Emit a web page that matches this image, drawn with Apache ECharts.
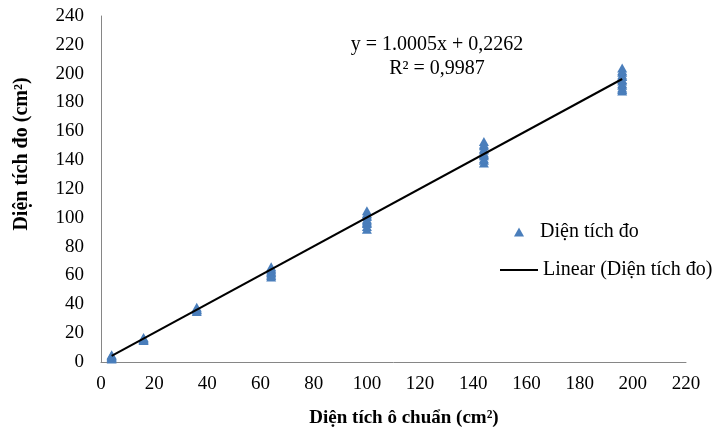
<!DOCTYPE html>
<html>
<head>
<meta charset="utf-8">
<style type="text/css">
* { margin: 0; padding: 0; }
body { background: #fff; }
#chart { width: 722px; height: 434px; }
</style>
</head>
<body>
<div id="chart"></div>
<script type="text/javascript" src="https://cdn.jsdelivr.net/npm/echarts@6/dist/echarts.min.js"></script>
<script type="text/javascript">
// ô chuẩn (cm2) và các lần đo tương ứng
var xStd = [4, 16, 36, 64, 100, 144, 196];
var yMeas = [
    [2, 3, 3.5, 4, 4.5, 5],
    [15, 15.5, 16, 16.5, 17],
    [35, 36, 36.5, 37, 38],
    [59, 60, 61, 62, 63, 64, 65, 66],
    [92, 94, 96, 97, 98, 99, 101, 102, 103, 105],
    [138, 140, 141, 143, 144, 145, 147, 148, 150, 151, 153],
    [188, 189, 190, 192, 193, 195, 196, 198, 199, 201, 202, 204]
];
// đường xu hướng
var trendX = [4, 196];
var trendY = [4.2, 196.3];

var xTicks = [0, 220, 20];
var yTicks = [0, 240, 20];

var pts = [];
for (var i = 0; i < xStd.length; i++) {
    for (var j = 0; j < yMeas[i].length; j++) {
        pts.push([xStd[i], yMeas[i][j]]);
    }
}
var trend = [];
for (var k = 0; k < trendX.length; k++) {
    trend.push([trendX[k], trendY[k]]);
}

var font = '"Liberation Serif", "DejaVu Serif", serif';
var myChart = echarts.init(document.getElementById('chart'));

var option = {
    animation: false,
    backgroundColor: '#fff',
    grid: { left: 101, right: 36, top: 16, bottom: 72, containLabel: false },
    xAxis: {
        type: 'value',
        min: xTicks[0], max: xTicks[1], interval: xTicks[2],
        axisLine: { show: true, lineStyle: { color: '#868686', width: 1 } },
        axisTick: { show: false },
        splitLine: { show: false },
        axisLabel: { color: '#000', fontFamily: font, fontSize: 19, margin: 13 }
    },
    yAxis: {
        type: 'value',
        min: yTicks[0], max: yTicks[1], interval: yTicks[2],
        axisLine: { show: true, lineStyle: { color: '#868686', width: 1 } },
        axisTick: { show: false },
        splitLine: { show: false },
        axisLabel: { color: '#000', fontFamily: font, fontSize: 19, margin: 17 }
    },
    legend: [{
        data: ['Diện tích đo'],
        orient: 'vertical',
        left: 514, top: 222,
        padding: 0,
        itemWidth: 10, itemHeight: 9,
        textStyle: { color: '#000', fontFamily: font, fontSize: 20, padding: [0, 0, 0, 11] }
    }, {
        data: [{ name: 'Linear (Diện tích đo)', icon: 'rect' }],
        orient: 'vertical',
        left: 500, top: 260,
        padding: 0,
        itemWidth: 38, itemHeight: 2,
        itemStyle: { color: '#000' },
        textStyle: { color: '#000', fontFamily: font, fontSize: 20, padding: [0, 0, 0, 0] }
    }],
    graphic: [{
        type: 'text',
        style: {
            text: 'y = 1.0005x + 0,2262\nR² = 0,9987',
            x: 437, y: 33,
            textAlign: 'center',
            fontFamily: font, fontSize: 20, lineHeight: 24,
            fill: '#000'
        }
    }, {
        type: 'text',
        style: {
            text: 'Diện tích ô chuẩn (cm²)',
            x: 404, y: 418,
            textAlign: 'center', textVerticalAlign: 'middle',
            fontFamily: font, fontSize: 19, fontWeight: 'bold',
            fill: '#000'
        }
    }, {
        type: 'text',
        x: 22, y: 154,
        rotation: Math.PI / 2,
        style: {
            text: 'Diện tích đo (cm²)',
            x: 0, y: 0,
            textAlign: 'center', textVerticalAlign: 'middle',
            fontFamily: font, fontSize: 20, fontWeight: 'bold',
            fill: '#000'
        }
    }],
    series: [{
        name: 'Diện tích đo',
        type: 'scatter',
        symbol: 'triangle',
        symbolSize: [10, 9],
        itemStyle: { color: '#4A7EBB', opacity: 1 },
        data: pts,
        z: 2
    }, {
        name: 'Linear (Diện tích đo)',
        type: 'line',
        symbol: 'none',
        showSymbol: false,
        lineStyle: { color: '#000', width: 2 },
        itemStyle: { color: '#000' },
        data: trend,
        z: 3
    }]
};
myChart.setOption(option);
</script>
</body>
</html>
